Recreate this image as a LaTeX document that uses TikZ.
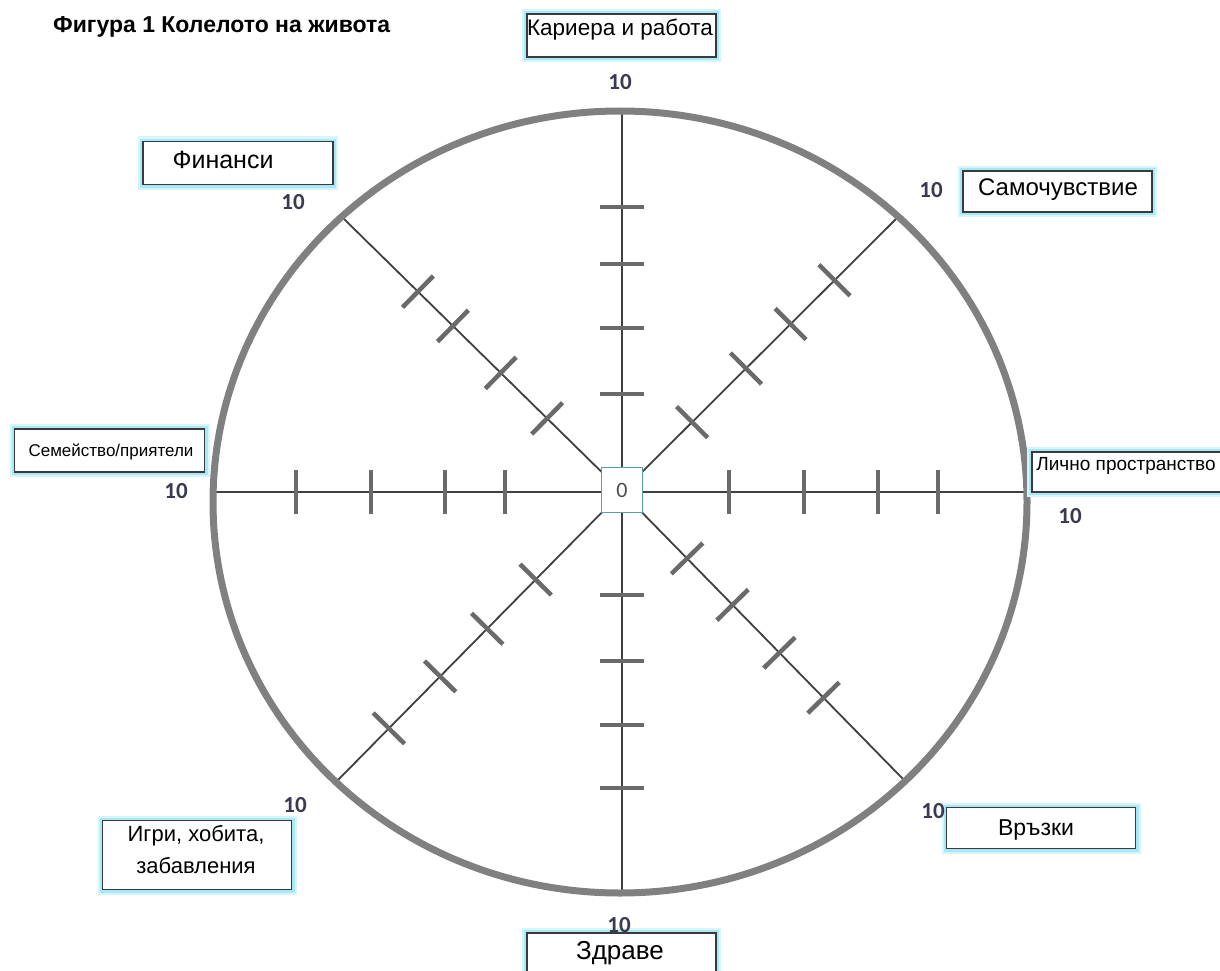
\documentclass[tikz,border=0pt]{standalone}
\usepackage{fontspec}
\setmainfont{Liberation Sans}
\newfontfamily\numfont{Carlito}
\usetikzlibrary{calc}
\definecolor{rim}{HTML}{808080}
\definecolor{spk}{HTML}{404040}
\definecolor{tkc}{HTML}{6A6A6A}
\definecolor{glowc}{HTML}{A8E8F8}
\definecolor{glowd}{HTML}{D8F5FC}
\definecolor{boxc}{HTML}{3A3A3A}
\definecolor{numc}{HTML}{3B3B4F}
\definecolor{tealc}{HTML}{5A9EAC}
\newcommand\spoketicks[2]{%
  \foreach \d in {#2}{%
    \coordinate (p) at ($(o)!\d pt!(#1)$);
    \draw[tk] ($(p)!22pt!90:(#1)$) -- ($(p)!22pt!-90:(#1)$);
  }}
\tikzset{
  spoke/.style={draw=spk, line width=1.8pt},
  tk/.style={draw=tkc, line width=4.5pt},
  lblbox/.style={draw=boxc, line width=1.6pt, fill=white, inner sep=0pt,
    preaction={draw=glowd, line width=10pt},
    preaction={draw=glowc, line width=6pt}},
  lbl/.style={inner sep=0pt, text=black, font=\fontsize{22.5}{26}\selectfont},
  num/.style={inner sep=0pt, text=numc, font=\numfont\bfseries\fontsize{23}{26}\selectfont},
}
\begin{document}
\begin{tikzpicture}[x=1pt,y=-1pt]
\useasboundingbox[fill=white] (0,0) rectangle (1220,971);
% centre and spoke ends
\coordinate (o) at (622,492);
\coordinate (t) at (622,112);
\coordinate (b) at (622,893);
\coordinate (l) at (213,492);
\coordinate (r) at (1027,492);
\coordinate (ul) at (343,218);
\coordinate (ur) at (897,218);
\coordinate (ll) at (337,781);
\coordinate (lr) at (903,779);
\foreach \e in {t,b,l,r,ul,ur,ll,lr} \draw[spoke] (o) -- (\e);
\spoketicks{t}{98,164,228,285}
\spoketicks{b}{103,169,233,296}
\spoketicks{l}{117,177,251,326}
\spoketicks{r}{107,182,256,316}
\spoketicks{ul}{105,170,237,286}
\spoketicks{ur}{99,175,238,300}
\spoketicks{ll}{123,192,259,332}
\spoketicks{lr}{93,158,225,288}
% rim
\draw[rim, line width=7pt] (620,502) ellipse [x radius=407pt, y radius=391pt];
% centre box
\node[draw=tealc, line width=1.3pt, fill=white, minimum width=41pt, minimum height=45pt, inner sep=0pt,
  text=black!70, font=\numfont\fontsize{22}{24}\selectfont] (zero) at (622,490) {0};
% title
\node[anchor=west, inner sep=0pt, font=\bfseries\fontsize{23}{27}\selectfont] (title) at (53,27) {Фигура 1 Колелото на живота};
% label boxes
\node[lblbox, minimum width=189pt, minimum height=43pt] (bkar) at (621.5,35.5) {};
\node[lbl] (tkar) at (620,30) {Кариера и работа};
\node[lblbox, minimum width=190pt, minimum height=43pt] (bfin) at (238,163) {};
\node[lbl, font=\fontsize{25}{28}\selectfont] (tfin) at (223,160) {Финанси};
\node[lblbox, minimum width=189pt, minimum height=41pt] (bsam) at (1057.5,191.5) {};
\node[lbl, font=\fontsize{24}{28}\selectfont] (tsam) at (1058,190) {Самочувствие};
\node[lblbox, minimum width=190pt, minimum height=43pt] (bsem) at (109.5,450.5) {};
\node[lbl, font=\fontsize{17}{20}\selectfont] (tsem) at (111,452) {Семейство/приятели};
\node[lblbox, minimum width=198pt, minimum height=40pt] (bli) at (1131,472) {};
\node[lbl, font=\fontsize{19}{22}\selectfont] (tli) at (1126,466) {Лично пространство};
\node[lblbox, minimum width=189pt, minimum height=69pt] (bigr) at (197,855) {};
\node[lbl, align=center, font=\fontsize{22}{32}\selectfont] (tigr) at (196,850) {Игри, хобита,\\забавления};
\node[lblbox, minimum width=189pt, minimum height=41pt] (bvr) at (1041,828) {};
\node[lbl, font=\fontsize{23}{26}\selectfont] (tvr) at (1036,830) {Връзки};
\node[lblbox, minimum width=189pt, minimum height=54pt] (bzd) at (621.5,960) {};
\node[lbl, font=\fontsize{26}{30}\selectfont] (tzd) at (620,953) {Здраве};
% numbers
\node[num] (n1) at (620,82) {10};
\node[num] (n2) at (293,202) {10};
\node[num] (n3) at (931,190) {10};
\node[num] (n4) at (176,491) {10};
\node[num] (n5) at (1070,516) {10};
\node[num] (n6) at (295,805) {10};
\node[num] (n7) at (933,811) {10};
\node[num] (n8) at (619,925) {10};
\end{tikzpicture}
\end{document}
